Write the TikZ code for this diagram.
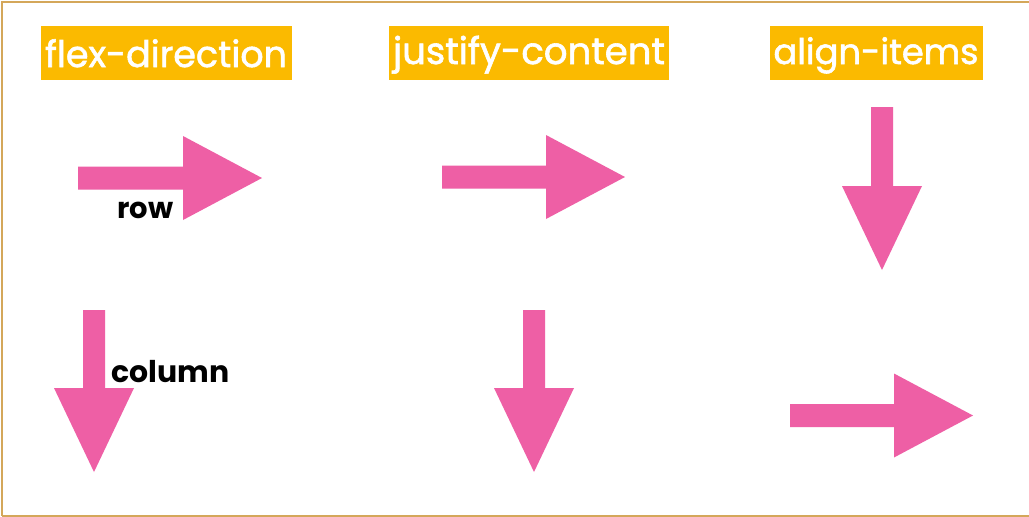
\documentclass[tikz,border=0pt]{standalone}
\usepackage{fontspec}
\setmainfont{Poppins}
\newfontfamily\titlefont{Poppins}[BoldFont={Poppins}, BoldFeatures={FakeBold=1.6}]
\usepackage{graphicx}
\definecolor{titlebg}{HTML}{FBBA00}
\definecolor{pinkarrow}{HTML}{EE5FA5}
\definecolor{frameline}{HTML}{D4A75A}
\tikzset{
  titlebox/.style={fill=titlebg, draw=none, inner sep=0pt},
  titletext/.style={text=white, inner sep=0pt, anchor=base, font=\titlefont\bfseries},
  labeltext/.style={text=black, inner sep=0pt, anchor=base west, font=\bfseries},
  arrowshape/.style={fill=pinkarrow, draw=none},
  frame/.style={draw=frameline, line width=2pt}
}
% right arrow: shaft start x, head start x, tip x, centre y
\newcommand\rightarrowshape[4]{%
  \fill[arrowshape] (#1,#4-11.5) -- (#2,#4-11.5) -- (#2,#4-42) -- (#3,#4)
    -- (#2,#4+42) -- (#2,#4+11.5) -- (#1,#4+11.5) -- cycle;}
% down arrow: centre x, shaft top y, head start y, tip y
\newcommand\downarrowshape[4]{%
  \fill[arrowshape] (#1-11,#2) -- (#1+11,#2) -- (#1+11,#3) -- (#1+40,#3) -- (#1,#4)
    -- (#1-40,#3) -- (#1-11,#3) -- cycle;}
\begin{document}
\begin{tikzpicture}[x=1pt,y=-1pt]
\useasboundingbox (0,0) rectangle (1029,517);
\fill[white] (0,0) rectangle (1029,517);
% frame
\draw[frame] (1.5,515.5) -- (1.5,1.5) -- (1029,1.5);
\draw[frame] (1.5,515.5) -- (1029,515.5);
% titles
\node[titlebox, minimum width=251pt, minimum height=54pt] (b1) at (166.5,53) {};
\node[titletext] (t1) at (166,67) {\resizebox{242pt}{!}{flex-direction}};
\node[titlebox, minimum width=280pt, minimum height=54pt] (b2) at (529,53) {};
\node[titletext] (t2) at (529,64) {\resizebox{272pt}{!}{justify-content}};
\node[titlebox, minimum width=213pt, minimum height=54pt] (b3) at (876,53) {};
\node[titletext] (t3) at (876,64) {\resizebox{205pt}{!}{align-items}};
% arrows
\rightarrowshape{78}{183}{262}{178}
\downarrowshape{94}{310}{388}{472}
\rightarrowshape{442}{546}{625}{177}
\downarrowshape{534}{310}{388}{472}
\downarrowshape{882}{107}{186}{270}
\rightarrowshape{790}{894}{973}{415.5}
% labels
\node[labeltext] (row) at (117,218) {\resizebox{56pt}{!}{row}};
\node[labeltext] (col) at (111,382) {\resizebox{118pt}{!}{column}};
\end{tikzpicture}
\end{document}
